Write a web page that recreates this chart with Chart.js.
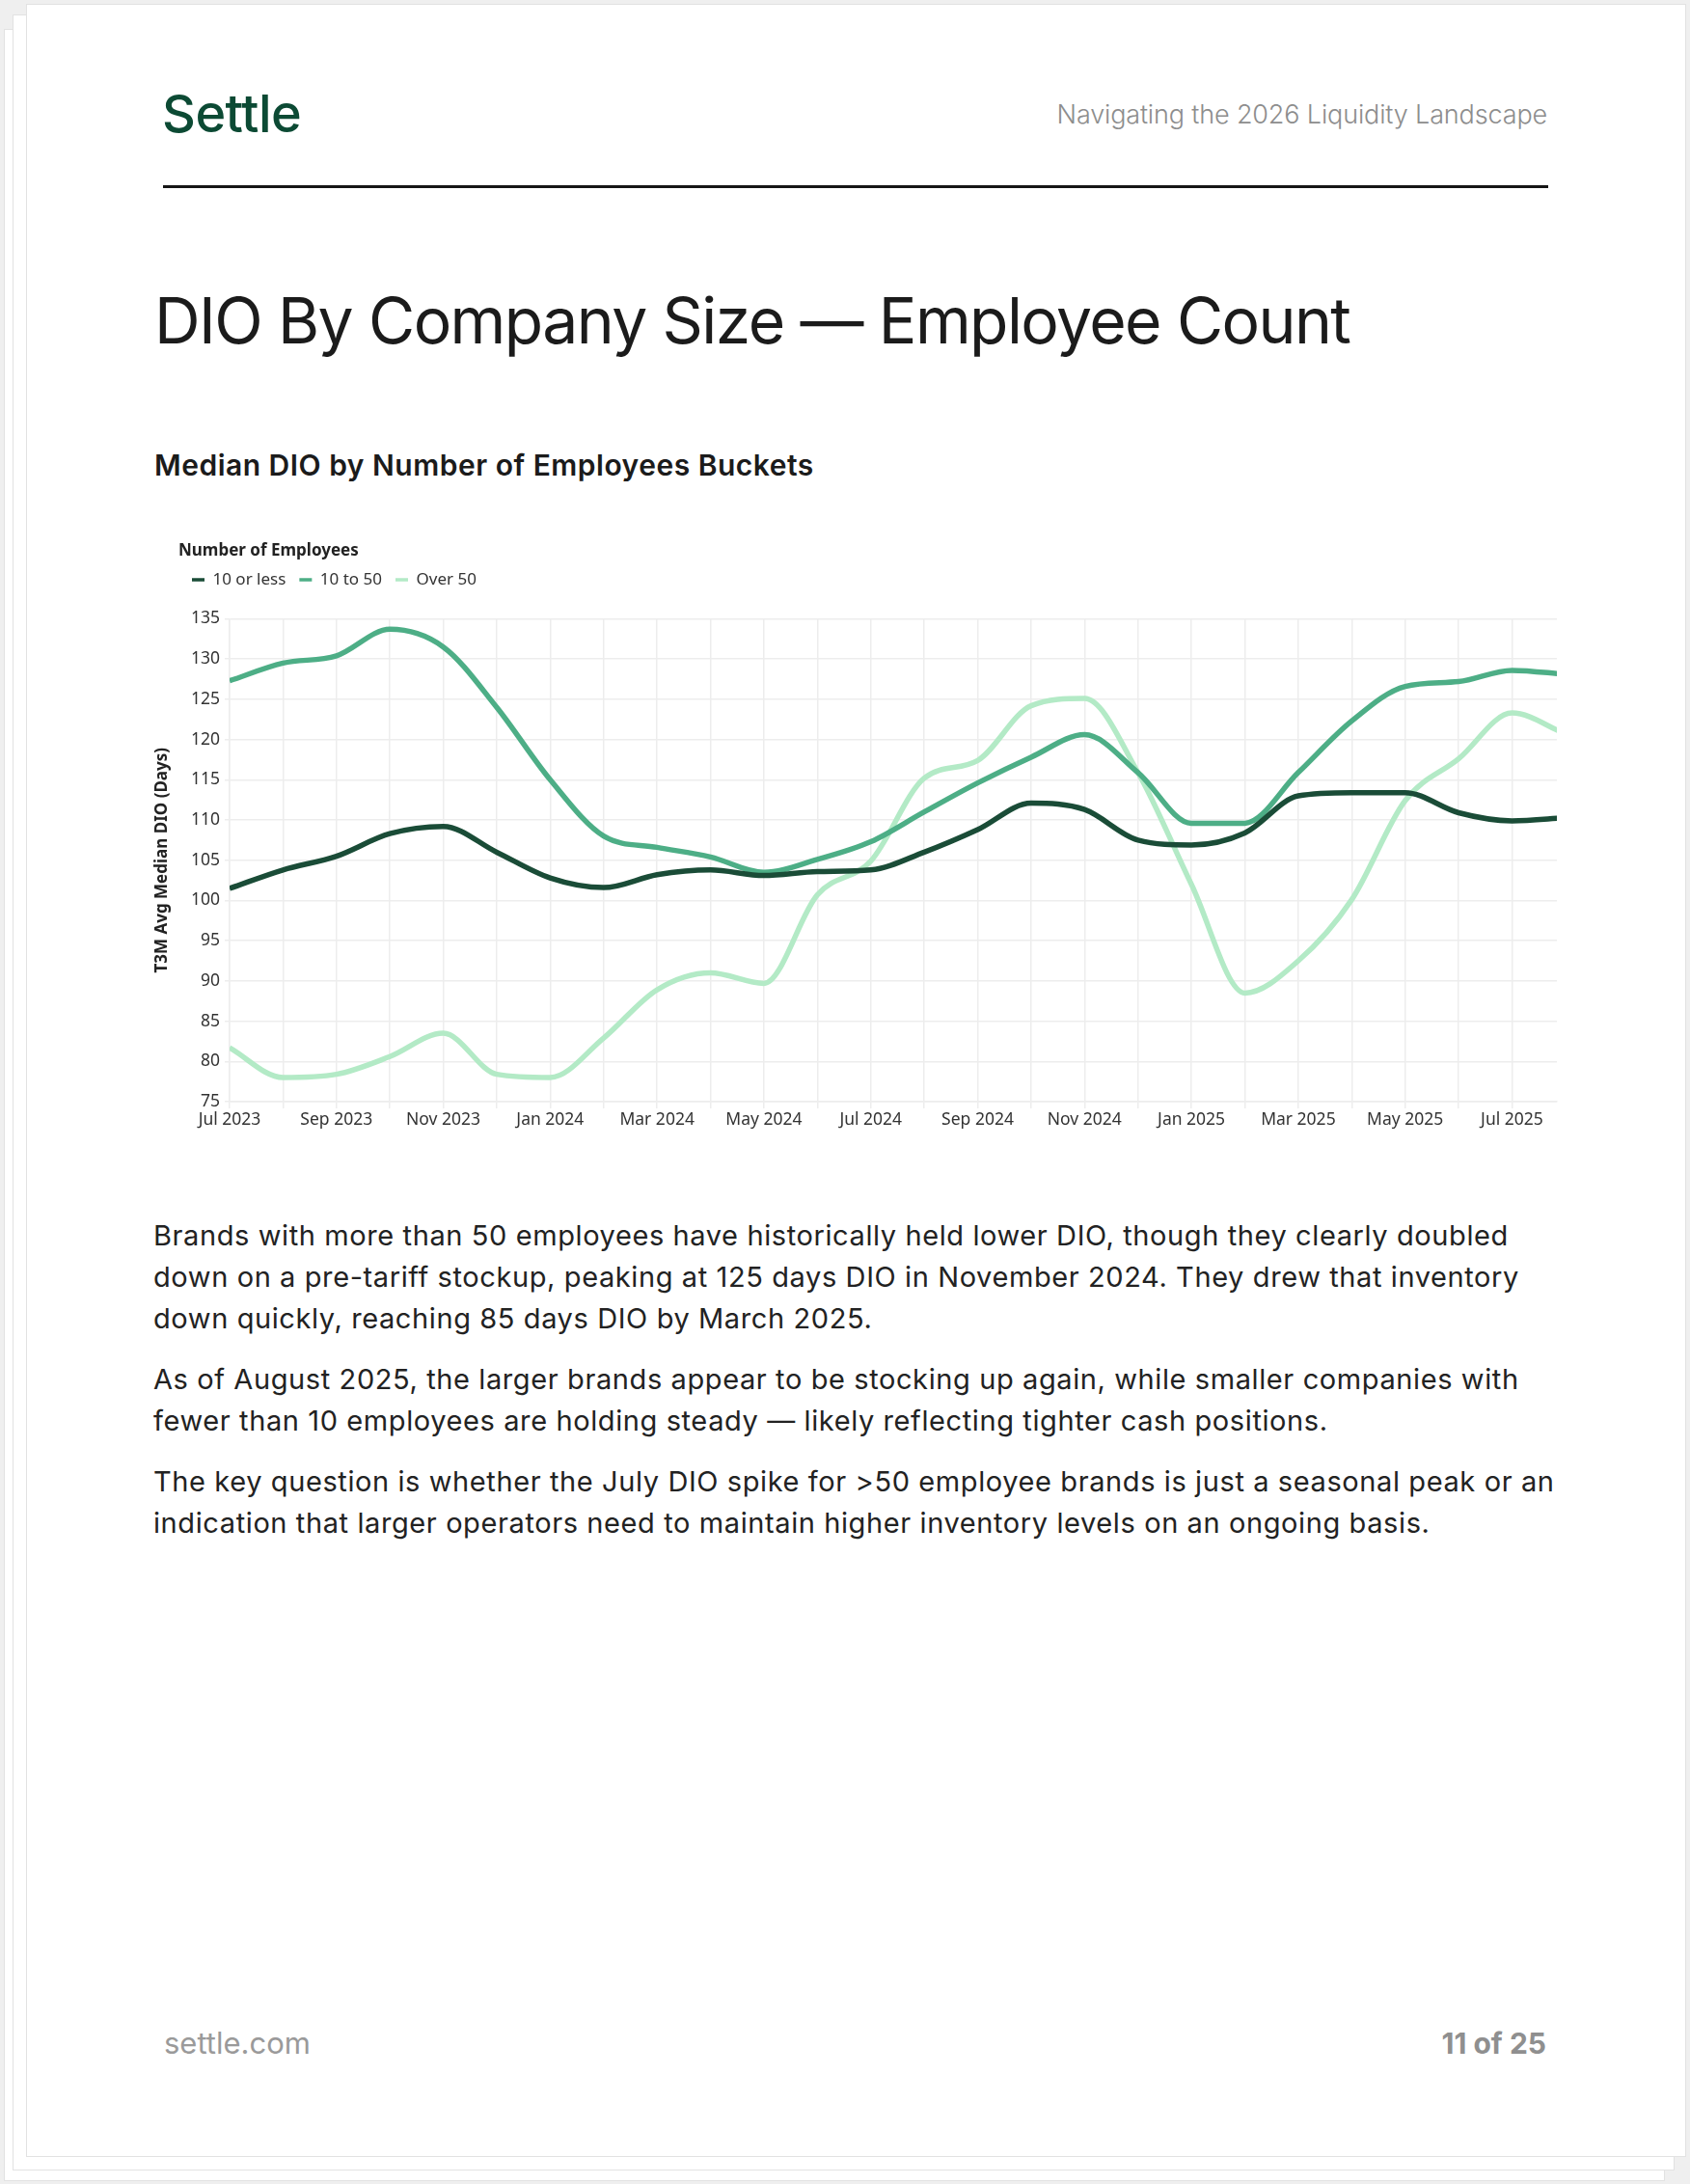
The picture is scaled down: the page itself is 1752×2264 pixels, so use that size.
<!DOCTYPE html>
<html>
<head>
<meta charset="utf-8">
<script src="https://cdn.jsdelivr.net/npm/chart.js@4.4.1/dist/chart.umd.min.js"></script>
<style>
  html, body { margin: 0; padding: 0; }
  body { width: 1752px; height: 2264px; background: #efefef; position: relative; overflow: hidden; font-family: "Inter", "Noto Sans", sans-serif; }
  .sheet { position: absolute; background: #fff; border: 1px solid #e2e2e2; box-sizing: border-box; }
  .abs { position: absolute; white-space: nowrap; line-height: 1; }
  #logo { left: 168px; top: 91px; font-size: 54px; font-weight: 500; color: #0c4a34; letter-spacing: -0.5px; }
  #runner { right: 148px; top: 105px; font-size: 27px; font-weight: 300; color: #8d8d8d; letter-spacing: -0.15px; }
  #rule { position: absolute; left: 169px; top: 192px; width: 1436px; height: 3px; background: #161616; }
  #title { left: 160px; top: 299px; font-size: 66px; font-weight: 400; color: #1b1b1b; letter-spacing: -1.6px; }
  #subtitle { left: 160px; top: 467px; font-size: 30px; font-weight: 600; color: #1b1b1b; letter-spacing: 0.5px; }
  #chartBox { position: absolute; left: 150px; top: 552px; width: 1480px; height: 621px; }
  #body { position: absolute; left: 159px; top: 1259px; width: 1500px; font-size: 29px; line-height: 43px; color: #222; letter-spacing: 0.6px; }
  #body p { margin: 0 0 20px 0; white-space: nowrap; }
  #footL { left: 170px; top: 2102px; font-size: 31px; font-weight: 400; color: #9a9a9a; }
  #footR { right: 149px; top: 2103px; font-size: 30px; font-weight: 700; color: #8f8f8f; }
</style>
</head>
<body>
<div class="sheet" style="left:4px; top:30px; width:1722px; height:2231px;"></div>
<div class="sheet" style="left:13px; top:15px; width:1723px; height:2235px;"></div>
<div class="sheet" style="left:27px; top:4px; width:1721px; height:2232px;"></div>

<div id="logo" class="abs">Settle</div>
<div id="runner" class="abs">Navigating the 2026 Liquidity Landscape</div>
<div id="rule"></div>
<div id="title" class="abs">DIO By Company Size — Employee Count</div>
<div id="subtitle" class="abs">Median DIO by Number of Employees Buckets</div>

<div id="chartBox"><canvas id="chart"></canvas></div>

<div id="body">
  <p>Brands with more than 50 employees have historically held lower DIO, though they clearly doubled<br>down on a pre-tariff stockup, peaking at 125 days DIO in November 2024. They drew that inventory<br>down quickly, reaching 85 days DIO by March 2025.</p>
  <p>As of August 2025, the larger brands appear to be stocking up again, while smaller companies with<br>fewer than 10 employees are holding steady — likely reflecting tighter cash positions.</p>
  <p>The key question is whether the July DIO spike for &gt;50 employee brands is just a seasonal peak or an<br>indication that larger operators need to maintain higher inventory levels on an ongoing basis.</p>
</div>

<div id="footL" class="abs">settle.com</div>
<div id="footR" class="abs">11 of 25</div>

<script>
// ---- data ----
const months = ["Jul 2023","Aug 2023","Sep 2023","Oct 2023","Nov 2023","Dec 2023",
                "Jan 2024","Feb 2024","Mar 2024","Apr 2024","May 2024","Jun 2024",
                "Jul 2024","Aug 2024","Sep 2024","Oct 2024","Nov 2024","Dec 2024",
                "Jan 2025","Feb 2025","Mar 2025","Apr 2025","May 2025","Jun 2025",
                "Jul 2025","Aug 2025"];
const seriesNames = ["10 or less", "10 to 50", "Over 50"];
const tenOrLess = [101.5,103.8,105.5,108.3,109.2,106.0,102.8,101.6,103.2,103.8,103.1,103.6,
                   103.8,106.0,108.8,112.1,111.3,107.5,106.9,108.4,113.0,113.4,113.4,110.9,109.9,110.3];
const tenTo50   = [127.3,129.5,130.4,133.7,131.5,124.0,115.0,108.0,106.6,105.4,103.5,105.1,
                   107.3,111.0,114.6,117.8,120.6,115.9,109.6,109.6,115.9,122.3,126.6,127.2,128.6,128.1];
const over50    = [81.7,78.0,78.4,80.6,83.5,78.4,78.0,82.9,88.9,91.0,89.7,100.7,
                   104.9,115.2,117.4,124.2,125.1,115.9,102.0,88.5,92.5,100.1,112.4,117.6,123.3,120.7];
const yTicks = { min: 75, max: 135, step: 5 };
const xAxisEnd = 24.84; // data window ends part-way through Aug 2025

// ---- chart ----
const colors = ["#1a4c37", "#4dae86", "#b3eac6"];
const toPoints = arr => arr.map((v, i) => ({ x: i, y: v }));
const FONT = '"Noto Sans", "Open Sans", sans-serif';
const gridColor = "#ededed";

new Chart(document.getElementById("chart"), {
  type: "line",
  data: {
    datasets: [tenOrLess, tenTo50, over50].map((arr, k) => ({
      label: seriesNames[k],
      data: toPoints(arr),
      borderColor: colors[k],
      backgroundColor: colors[k],
      borderWidth: 5.5,
      pointRadius: 0,
      pointHoverRadius: 0,
      cubicInterpolationMode: "monotone",
      clip: 0
    }))
  },
  options: {
    responsive: true,
    maintainAspectRatio: false,
    animation: false,
    layout: { padding: { left: 35, right: 16, top: 0, bottom: 0 } },
    plugins: {
      tooltip: { enabled: false },
      legend: {
        position: "top",
        align: "start",
        title: {
          display: true,
          text: "Number of Employees",
          position: "start",
          color: "#222",
          font: { family: FONT, size: 17, weight: "bold", lineHeight: 1 },
          padding: { top: 11, bottom: -1.5 }
        },
        labels: {
          usePointStyle: true,
          pointStyle: "line",
          pointStyleWidth: 13,
          padding: 14,
          color: "#333",
          font: { family: FONT, size: 17 },
          generateLabels(chart) {
            return Chart.defaults.plugins.legend.labels.generateLabels(chart).map(l => ({
              ...l, pointStyle: "line", lineWidth: 3.5
            }));
          }
        }
      },
      title: {
        display: true, text: "", weight: 500,
        padding: 0, font: { size: 22, lineHeight: 1 }
      }
    },
    scales: {
      x: {
        type: "linear",
        min: 0,
        max: xAxisEnd,
        grid: { color: gridColor, lineWidth: 1.5, tickLength: 7, drawTicks: true },
        border: { color: gridColor, width: 1.5 },
        ticks: {
          stepSize: 1,
          autoSkip: false,
          maxRotation: 0,
          includeBounds: false,
          padding: 1.5,
          color: "#333",
          font: { family: FONT, size: 17.5 },
          callback: v => (Number.isInteger(v) && v % 2 === 0 && months[v]) ? months[v] : ""
        }
      },
      y: {
        min: yTicks.min,
        max: yTicks.max,
        afterFit(scale) { scale.width = 53; },
        grid: { color: gridColor, lineWidth: 1.5, tickLength: 5 },
        border: { color: gridColor, width: 1.5 },
        ticks: {
          stepSize: yTicks.step,
          padding: 5,
          color: "#333",
          font: { family: FONT, size: 17.5 }
        },
        title: {
          display: true,
          text: "T3M Avg Median DIO (Days)",
          color: "#222",
          font: { family: FONT, size: 17, weight: "bold" },
          padding: { top: -27.2, bottom: 0 }
        }
      }
    }
  }
});
</script>
</body>
</html>
